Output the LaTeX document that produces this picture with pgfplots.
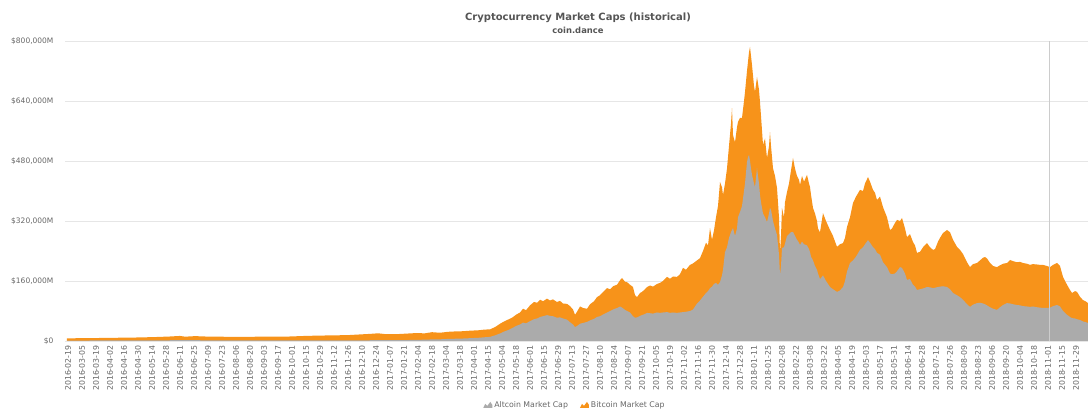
\documentclass[border=0pt]{standalone}
\usepackage{pgfplots}
\usepackage{pgfplotstable}
\pgfplotsset{compat=1.18}
\usepackage{fontspec}
\setmainfont{DejaVu Sans}
\definecolor{btc}{HTML}{F7931A}
\definecolor{alt}{HTML}{ABABAB}
\definecolor{gridc}{HTML}{E6E6E6}
\definecolor{txt}{HTML}{666666}
\definecolor{ttl}{HTML}{555555}

% x = horizontal position (one unit per day), t = total market cap ($M), a = altcoin market cap ($M)
\pgfplotstableread{
x t a
67 7000 1000
80 7500 1200
95 7800 1400
110 8500 1800
125 8800 1800
140 9500 1700
155 10500 1600
170 12000 2000
180 13500 2500
185 11500 2000
195 13000 2200
205 12000 1800
215 11500 1700
230 11200 1600
245 11000 1500
260 11500 1500
275 11800 1600
290 12000 1500
305 13500 1600
320 14500 1600
335 15000 1600
350 16000 1800
360 17500 1800
370 19000 2000
378 20500 2200
385 18500 2000
395 18000 2200
405 19500 2400
415 21000 3000
425 20500 3500
432 23500 4200
440 22000 4500
448 24500 5500
455 25500 6000
462 26000 6500
470 27500 7500
478 28500 8500
485 30500 10000
490 31000 11000
495 37000 15000
500 46000 20000
504 52000 25000
508 57000 29000
512 62000 34000
516 70000 40000
520 76000 44000
523 86000 49000
526 82000 47000
530 95000 53000
534 104000 58000
537 102000 60000
540 110000 64000
543 106000 66000
547 113000 69000
550 108000 67000
553 111000 66000
557 104000 62000
560 107000 63000
563 100000 60000
567 99000 57000
570 93000 50000
573 84000 44000
575 70000 37000
577 78000 40000
580 92000 46000
583 88000 48000
587 86000 51000
590 98000 55000
594 106000 59000
597 117000 64000
600 122000 66000
604 133000 72000
607 141000 76000
610 138000 80000
613 146000 84000
617 150000 88000
620 162000 92000
622 168000 89000
625 158000 83000
627 157000 80000
630 150000 76000
633 144000 66000
635 122000 62000
637 117000 63000
640 128000 67000
642 131000 69000
645 138000 72000
647 144000 75000
650 148000 74000
653 145000 73000
657 152000 76000
660 155000 75000
663 160000 76000
667 171000 77000
670 166000 75000
673 172000 76000
677 171000 75000
680 178000 76000
683 195000 77000
686 190000 78000
690 203000 80000
693 207000 84000
697 215000 100000
700 221000 108000
703 240000 118000
706 262000 128000
708 255000 133000
710 301000 141000
712 270000 145000
714 295000 152000
716 330000 155000
718 360000 150000
720 424000 157000
722 410000 175000
723 389000 190000
725 420000 237000
727 460000 250000
729 520000 275000
731 580000 290000
732 621000 296000
733 549000 301000
735 530000 280000
737 570000 300000
738 584000 330000
740 595000 344000
742 595000 360000
744 640000 400000
745 664000 420000
747 720000 477000
748 745000 490000
749 770000 496000
750 784000 480000
751 760000 460000
752 736000 443000
754 680000 420000
755 664000 410000
757 704000 461000
759 670000 420000
760 637000 389000
761 600000 370000
763 523000 340000
765 540000 330000
767 488000 317000
769 520000 340000
770 557000 355000
771 520000 350000
773 461000 320000
775 440000 300000
777 408000 283000
779 330000 230000
780 237000 176000
781 280000 200000
782 355000 248000
784 330000 250000
785 370000 260000
787 397000 280000
789 420000 285000
791 455000 290000
793 488000 291000
795 460000 280000
797 440000 270000
799 430000 262000
800 416000 256000
802 440000 265000
804 425000 258000
807 443000 255000
809 420000 245000
810 411000 237000
811 390000 225000
813 355000 215000
815 340000 200000
817 320000 190000
818 300000 180000
820 290000 165000
823 341000 175000
826 320000 160000
830 296000 144000
833 280000 138000
837 251000 131000
840 258000 135000
843 261000 144000
845 275000 160000
847 304000 185000
850 330000 208000
853 368000 215000
856 385000 225000
860 403000 243000
863 400000 250000
865 420000 258000
868 437000 269000
870 425000 262000
873 403000 250000
875 395000 245000
877 376000 235000
880 385000 230000
883 357000 210000
887 330000 197000
890 296000 180000
892 300000 178000
895 315000 180000
897 323000 186000
900 320000 197000
902 328000 195000
905 300000 180000
907 277000 163000
910 285000 165000
913 264000 150000
915 255000 145000
917 235000 136000
920 238000 138000
923 250000 140000
927 261000 144000
930 250000 143000
933 243000 141000
935 245000 142000
938 265000 144000
940 275000 145000
943 288000 146000
947 296000 144000
950 290000 138000
953 270000 128000
957 251000 122000
960 243000 117000
963 232000 110000
967 210000 98000
970 197000 91000
973 205000 97000
977 208000 101000
980 215000 102000
983 222000 100000
985 224000 98000
987 220000 95000
990 208000 90000
993 200000 86000
997 197000 83000
1000 202000 90000
1003 206000 96000
1007 208000 101000
1010 216000 100000
1013 213000 98000
1017 210000 96000
1020 211000 95000
1023 208000 93000
1027 206000 92000
1030 203000 91000
1033 205000 92000
1037 204000 90000
1040 203000 89000
1043 203000 88000
1047 200000 88000
1050 197000 89000
1053 203000 93000
1057 208000 96000
1060 200000 92000
1063 171000 80000
1067 150000 70000
1070 136000 64000
1072 128000 61000
1075 133000 60000
1077 131000 58000
1080 118000 56000
1083 109000 52000
1086 105000 50000
1088 101000 48000
}\mcdata

\begin{document}
\begin{tikzpicture}
\useasboundingbox (-65pt,-71pt) rectangle (1023pt,341pt);
\begin{axis}[
  scale only axis,
  width=1023pt, height=300pt,
  xmin=65, xmax=1088,
  ymin=0, ymax=800000,
  scaled y ticks=false,
  axis line style={draw=none},
  major tick length=0pt,
  ymajorgrids,
  grid style={gridc, line width=0.6pt},
  ytick={0,160000,320000,480000,640000,800000},
  yticklabels={\$0,\$160{,}000M,\$320{,}000M,\$480{,}000M,\$640{,}000M,\$800{,}000M},
  yticklabel style={font=\fontsize{7.5}{9}\selectfont, text=txt, xshift=-8pt},
  xtick={68,82,...,1076},
  xticklabels={2016-02-19,2016-03-05,2016-03-19,2016-04-02,2016-04-16,2016-04-30,2016-05-14,2016-05-28,2016-06-11,2016-06-25,2016-07-09,2016-07-23,2016-08-06,2016-08-20,2016-09-03,2016-09-17,2016-10-01,2016-10-15,2016-10-29,2016-11-12,2016-11-26,2016-12-10,2016-12-24,2017-01-07,2017-01-21,2017-02-04,2017-02-18,2017-03-04,2017-03-18,2017-04-01,2017-04-15,2017-05-04,2017-05-18,2017-06-01,2017-06-15,2017-06-29,2017-07-13,2017-07-27,2017-08-10,2017-08-24,2017-09-07,2017-09-21,2017-10-05,2017-10-19,2017-11-02,2017-11-16,2017-11-30,2017-12-14,2017-12-28,2018-01-11,2018-01-25,2018-02-08,2018-02-22,2018-03-08,2018-03-22,2018-04-05,2018-04-19,2018-05-03,2018-05-17,2018-05-31,2018-06-14,2018-06-28,2018-07-12,2018-07-26,2018-08-09,2018-08-23,2018-09-06,2018-09-20,2018-10-04,2018-10-18,2018-11-01,2018-11-15,2018-11-29},
  xticklabel style={font=\fontsize{7.8}{9}\selectfont, text=txt, rotate=90, anchor=east, xshift=-1pt},
  legend columns=2,
  legend style={at={(0.4985,-0.213)}, anchor=center, draw=none, fill=none,
    font=\fontsize{7.8}{9}\selectfont, text=txt,
    /tikz/every even column/.append style={column sep=10pt}},
  legend image code/.code={\fill[#1] (0pt,-3pt) -- (2pt,1pt) -- (4pt,-1pt) -- (7pt,3pt) -- (9pt,0pt) -- (9pt,-3pt) -- cycle;},
]
\addlegendimage{fill=alt, draw=none}
\addlegendentry{Altcoin Market Cap}
\addlegendimage{fill=btc, draw=none}
\addlegendentry{Bitcoin Market Cap}
\addplot[fill=btc, draw=none, forget plot] table[x=x, y=t] {\mcdata} \closedcycle;
\addplot[fill=alt, draw=none, forget plot] table[x=x, y=a] {\mcdata} \closedcycle;
\draw[black!20, line width=0.6pt] (axis cs:1049,0) -- (axis cs:1049,800000);
\end{axis}
\node[font=\bfseries\fontsize{10}{12}\selectfont, text=ttl] at (513pt,323pt) {Cryptocurrency Market Caps (historical)};
\node[font=\bfseries\fontsize{8.4}{10}\selectfont, text=ttl] at (513pt,311pt) {coin.dance};
\end{tikzpicture}
\end{document}
